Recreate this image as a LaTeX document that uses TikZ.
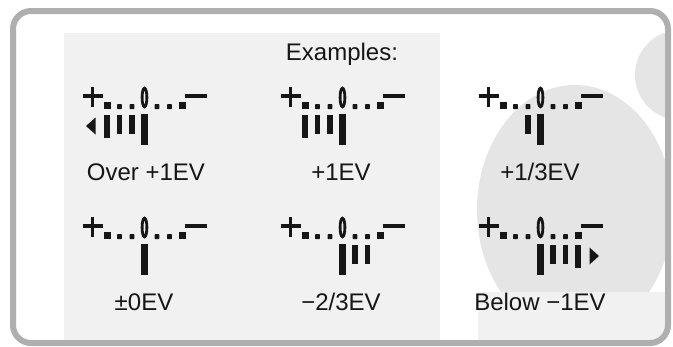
\documentclass[tikz,border=0pt]{standalone}
\usepackage{fontspec}
\setmainfont{Liberation Sans}
\definecolor{frame}{RGB}{175,175,175}
\definecolor{panel}{RGB}{241,241,241}
\definecolor{dial}{RGB}{229,229,229}
\definecolor{ink}{RGB}{22,22,22}
\tikzset{
  lbl/.style={font=\fontsize{24}{28}\selectfont, text=ink, inner sep=0pt, anchor=base},
}
% scale drawn with its zero digit at the scope origin (plus sign at y=0)
\newcommand\EVbase{%
  \fill[fill=ink] (-62,-1.8) rectangle (-42,1.8);
  \fill[fill=ink] (-53.8,-9.5) rectangle (-50.2,10.5);
  \fill[fill=ink] (40,-1.8) rectangle (62,1.8);
  \fill[fill=ink] (-41,5.5) rectangle (-34,13);
  \fill[fill=ink] (34,5.5) rectangle (41,13);
  \foreach \d in {-25,-12.5,12.5,25}{\fill[fill=ink, rounded corners=0.6] (\d-2.4,8.2) rectangle (\d+2.4,13);}
  \draw[ink, line width=2.8] (0,1.5) ellipse [x radius=2.4, y radius=9.3];
  \fill[fill=ink] (-3.2,18) rectangle (3.2,49);
}
\newcommand\DotBar[1]{\fill[fill=ink] (#1-2.8,19) rectangle (#1+2.8,38);}
\newcommand\SqBar[1]{\fill[fill=ink] (#1-3.4,19) rectangle (#1+3.4,42);}
\newcommand\LArrow{\fill[fill=ink] (-58.5,30) -- (-49,21.5) -- (-49,38.5) -- cycle;}
\newcommand\RArrow{\fill[fill=ink] (58.5,30) -- (49,21.5) -- (49,38.5) -- cycle;}
\begin{document}
\begin{tikzpicture}[x=1pt,y=-1pt]
\useasboundingbox (0,0) rectangle (673,346);
% background
\begin{scope}
  \clip[rounded corners=15] (16,14) rectangle (665,340);
  \fill[white] (0,0) rectangle (673,346);
  \fill[panel] (64,33) rectangle (440,340);
  \fill[dial] (575,210) ellipse [x radius=98, y radius=125];
  \fill[dial] (680,75) circle [radius=45];
  \fill[panel] (478,292) rectangle (673,346);
\end{scope}
\draw[frame, line width=6, rounded corners=18] (13,11) rectangle (668,343);
\node[lbl] (title) at (342,60) {Examples:};
% row 1
\begin{scope}[shift={(144.5,96)}]\EVbase \SqBar{-37.5}\DotBar{-25}\DotBar{-12.5}\LArrow\end{scope}
\begin{scope}[shift={(342.5,96)}]\EVbase \SqBar{-37.5}\DotBar{-25}\DotBar{-12.5}\end{scope}
\begin{scope}[shift={(540.5,96)}]\EVbase \DotBar{-12.5}\end{scope}
\node[lbl] (l1) at (146,180) {Over +1EV};
\node[lbl] (l2) at (341,180) {+1EV};
\node[lbl] (l3) at (540,180) {+1/3EV};
% row 2
\begin{scope}[shift={(144.5,226)}]\EVbase\end{scope}
\begin{scope}[shift={(342.5,226)}]\EVbase \DotBar{12.5}\DotBar{25}\end{scope}
\begin{scope}[shift={(540.5,226)}]\EVbase \DotBar{12.5}\DotBar{25}\SqBar{37.5}\RArrow\end{scope}
\node[lbl] (l4) at (144,310) {±0EV};
\node[lbl] (l5) at (341,310) {−2/3EV};
\node[lbl] (l6) at (540,310) {Below −1EV};
\end{tikzpicture}
\end{document}
